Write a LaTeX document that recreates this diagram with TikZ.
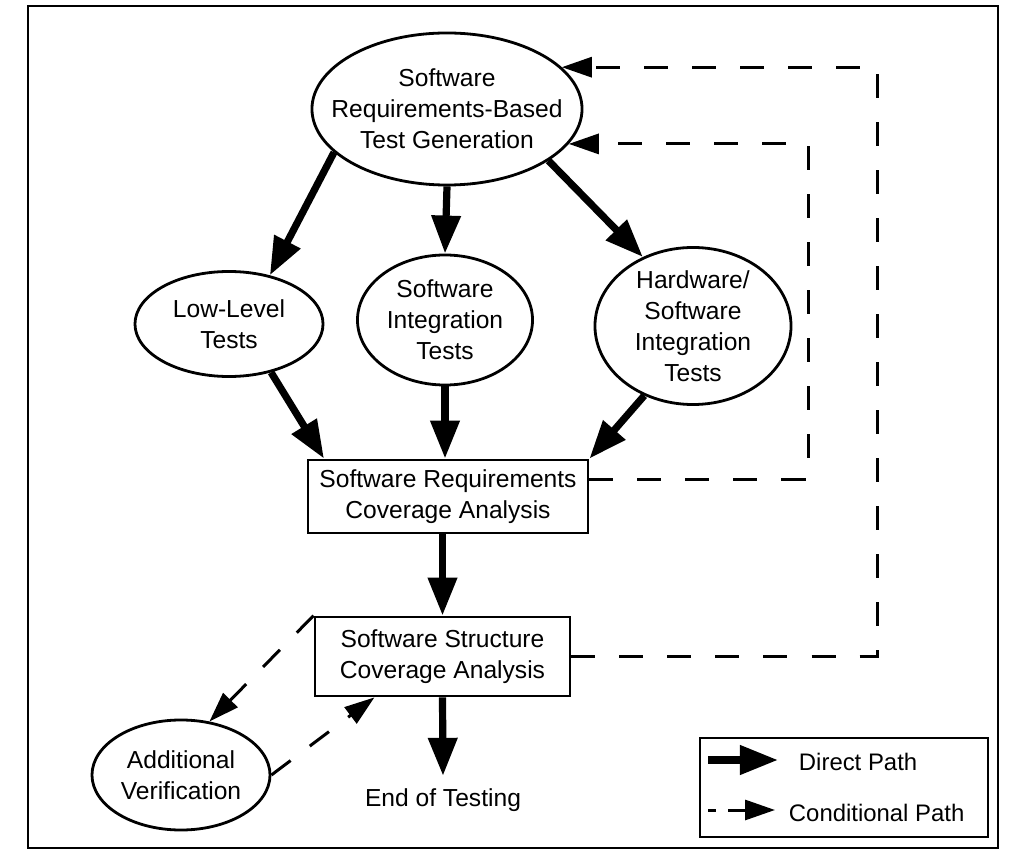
\documentclass[tikz,border=0pt]{standalone}
\usepackage{fontspec}
\setmainfont{Liberation Sans}
\usetikzlibrary{shapes.geometric,arrows.meta,positioning}

\begin{document}
\begin{tikzpicture}[x=0.025cm, y=-0.025cm,
    every node/.style={font=\fontsize{17.5}{22}\selectfont, align=center},
    oval/.style={ellipse, draw, line width=0.7mm, inner sep=-6mm},
    stage/.style={rectangle, draw, line width=0.7mm, inner sep=0pt},
    direct/.style={line width=1.8mm, -{Triangle[length=9.5mm,width=7mm]}},
    cond/.style={line width=0.75mm, dash pattern=on 6mm off 6mm, -{Triangle[length=7.5mm,width=5mm]}}]
    \useasboundingbox (0,0) rectangle (1013,852);
    \draw[line width=0.7mm] (28,6) rectangle (998,848);

    % test generation and the three kinds of tests
    \node[oval, minimum width=6.75cm, minimum height=3.8cm] (gen) at (447,109)
        {Software\\Requirements-Based\\Test Generation};
    \node[oval, minimum width=4.7cm, minimum height=2.625cm] (low) at (229,324)
        {Low-Level\\Tests};
    \node[oval, minimum width=4.375cm, minimum height=3.25cm] (sit) at (445,320)
        {Software\\Integration\\Tests};
    \node[oval, minimum width=4.9cm, minimum height=3.925cm] (hw) at (693,326)
        {Hardware/\\Software\\Integration\\Tests};

    % coverage analysis
    \node[stage, minimum width=7cm, minimum height=1.825cm] (srca) at (448,496.5)
        {Software Requirements\\Coverage Analysis};
    \node[stage, minimum width=6.375cm, minimum height=1.975cm] (ssca) at (442.5,656.5)
        {Software Structure\\Coverage Analysis};
    \node[oval, minimum width=4.45cm, minimum height=2.75cm] (addv) at (181,775)
        {Additional\\Verification};
    \node[outer sep=2mm] (end) at (443,800) {End of Testing};

    % direct paths
    \draw[direct] (gen.201) -- (low.50);
    \draw[direct] (gen.south) -- (sit.north);
    \draw[direct] (gen.333) -- (hw.126);
    \draw[direct] (low.311) -- (srca.163.5);
    \draw[direct] (sit.south) -- (sit.south |- srca.north);
    \draw[direct] (hw.235) -- (srca.north east);
    \draw[direct] (ssca.north |- srca.south) -- (ssca.north);
    \draw[direct] (ssca.south) -- (end.north);

    % conditional paths
    \coordinate (outer) at (877,0);
    \coordinate (inner) at (808,0);
    \draw[cond] (ssca.east) -| (outer |- gen.20) -- (gen.20);
    \draw[cond] (srca.7.5) -| (inner |- gen.-16) -- (gen.-16);
    \draw[cond] (ssca.north west) -- (addv.62);
    \draw[cond] (addv.east) -- (ssca.211.5);

    % legend
    \node[stage, minimum width=7.2cm, minimum height=2.475cm] (legend) at (844,787.5) {};
    \node[anchor=west, font=\fontsize{17}{20}\selectfont] (dtxt) at (794,762) {Direct Path};
    \node[anchor=west, font=\fontsize{17}{20}\selectfont] (ctxt) at (784,813) {Conditional Path};
    \coordinate (d0) at (708,760);
    \coordinate (d1) at (778,760);
    \coordinate (c0) at (708,810);
    \coordinate (c1) at (775,810);
    \draw[direct] (d0) -- (d1);
    \draw[cond, dash pattern=on 2mm off 3mm on 7mm off 0mm] (c0) -- (c1);
\end{tikzpicture}
\end{document}
